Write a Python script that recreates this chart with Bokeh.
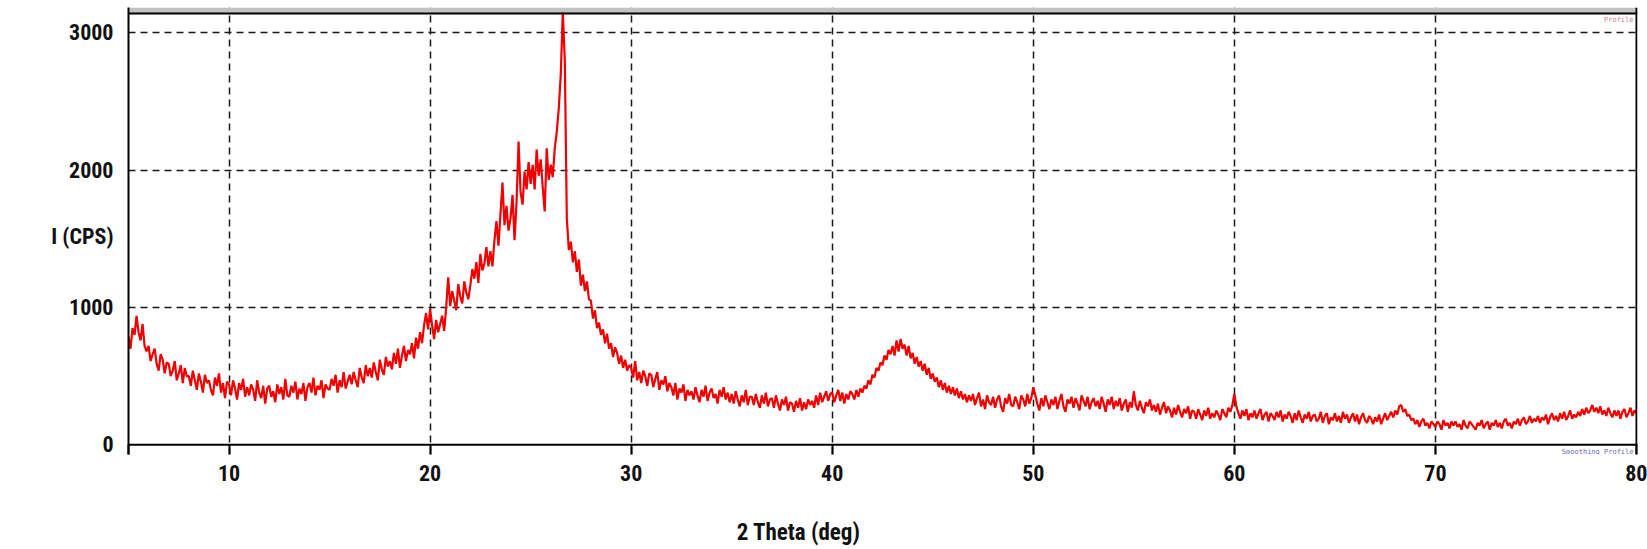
from bokeh.plotting import figure
from bokeh.models import (Range1d, FixedTicker, Label, Span, BoxAnnotation, LinearAxis)
from bokeh.embed import file_html
from bokeh.resources import INLINE

# XRD profile: intensity (CPS) sampled every 0.1 deg from 5.0 to 80.0 deg 2-theta
start_deg = 5.0
step_deg = 0.1
intensity = [
    790, 700, 850, 800, 940, 820, 760, 880, 720, 680,        # 5
    720, 610, 660, 700, 590, 540, 660, 620, 520, 600,        # 6
    590, 500, 540, 610, 470, 520, 580, 450, 560, 500,        # 7
    500, 430, 540, 470, 400, 520, 460, 380, 510, 450,        # 8
    470, 400, 360, 490, 430, 520, 380, 450, 340, 460,        # 9
    440, 360, 470, 410, 330, 450, 400, 480, 350, 420,        # 10
    360, 440, 400, 320, 470, 380, 340, 430, 300, 410,        # 11
    430, 350, 390, 310, 440, 370, 420, 330, 480, 360,        # 12
    350, 430, 380, 460, 330, 410, 370, 450, 320, 420,        # 13
    450, 380, 490, 360, 430, 400, 470, 340, 440, 410,        # 14
    400, 480, 430, 510, 380, 470, 420, 530, 410, 460,        # 15
    510, 440, 530, 470, 420, 560, 490, 450, 580, 500,        # 16
    560, 490, 600, 530, 470, 620, 550, 510, 640, 570,        # 17
    610, 550, 670, 590, 700, 560, 650, 720, 610, 690,        # 18
    660, 740, 630, 780, 700, 820, 740, 870, 960, 840,        # 19
    990, 870, 770, 910, 820, 880, 940, 830, 1000, 1220,      # 20
    1010, 1120, 1050, 980, 1170, 1080, 1030, 1190, 1110, 1060,   # 21
    1160, 1280, 1210, 1330, 1180, 1390, 1270, 1320, 1440, 1300,  # 22
    1410, 1300, 1490, 1630, 1450, 1680, 1910, 1600, 1740, 1560,  # 23
    1650, 1820, 1490, 1770, 2210, 1840, 1750, 1990, 1860, 2060,  # 24
    1900, 2040, 1860, 2150, 1960, 2080, 1880, 1700, 2160, 1930,  # 25
    2040, 1950, 2160, 2280, 2450, 2700, 3150, 2800, 1650, 1420,  # 26
    1480, 1330, 1410, 1260, 1350, 1160, 1240, 1120, 1190, 1060,  # 27
    1050, 920, 980, 850, 890, 800, 840, 740, 810, 700,       # 28
    740, 640, 710, 670, 590, 650, 560, 620, 540, 580,        # 29
    560, 490, 610, 470, 530, 450, 540, 500, 430, 520,        # 30
    510, 420, 480, 530, 400, 470, 440, 500, 390, 450,        # 31
    420, 360, 450, 330, 410, 380, 440, 320, 400, 360,        # 32
    390, 330, 420, 360, 310, 400, 350, 430, 320, 380,        # 33
    410, 340, 370, 300, 400, 350, 420, 330, 380, 310,        # 34
    370, 300, 390, 330, 280, 360, 310, 400, 290, 350,        # 35
    350, 290, 370, 310, 270, 360, 300, 380, 280, 330,        # 36
    340, 270, 360, 300, 250, 330, 290, 350, 250, 310,        # 37
    300, 240, 320, 270, 340, 250, 310, 260, 330, 290,        # 38
    320, 270, 360, 290, 380, 310, 350, 390, 320, 370,        # 39
    380, 310, 360, 400, 320, 380, 300, 370, 330, 390,        # 40
    370, 330, 400, 350, 410, 380, 430, 410, 470, 440,        # 41
    510, 490, 560, 540, 600, 580, 650, 620, 690, 660,        # 42
    720, 650, 760, 680, 770, 700, 730, 650, 720, 630,        # 43
    670, 590, 640, 570, 610, 540, 590, 510, 560, 480,        # 44
    520, 460, 490, 420, 470, 400, 450, 380, 430, 370,        # 45
    420, 360, 410, 340, 390, 330, 370, 310, 360, 320,        # 46
    370, 290, 340, 380, 280, 330, 260, 360, 310, 290,        # 47
    350, 270, 330, 360, 280, 240, 340, 300, 370, 290,        # 48
    280, 350, 310, 260, 360, 330, 280, 370, 300, 340,        # 49
    420, 360, 300, 250, 340, 280, 360, 310, 260, 330,        # 50
    290, 350, 260, 320, 370, 280, 240, 330, 300, 350,        # 51
    270, 340, 300, 250, 360, 320, 280, 350, 260, 310,        # 52
    340, 280, 320, 260, 350, 300, 240, 330, 290, 350,        # 53
    260, 320, 280, 340, 250, 300, 330, 240, 310, 270,        # 54
    390, 290, 250, 320, 270, 230, 310, 280, 330, 250,        # 55
    290, 240, 300, 220, 270, 310, 230, 280, 250, 200,        # 56
    270, 220, 290, 240, 200, 260, 230, 280, 190, 250,        # 57
    240, 190, 260, 220, 180, 250, 210, 270, 190, 230,        # 58
    200, 250, 220, 180, 260, 230, 200, 270, 240, 290,        # 59
    370, 280, 230, 190, 250, 210, 260, 180, 230, 200,        # 60
    250, 190, 230, 260, 180, 220, 240, 170, 230, 210,        # 61
    180, 240, 200, 250, 170, 220, 190, 240, 210, 160,        # 62
    230, 180, 250, 200, 160, 220, 190, 240, 170, 210,        # 63
    220, 170, 190, 240, 160, 210, 230, 150, 200, 180,        # 64
    230, 170, 210, 160, 240, 190, 220, 160, 200, 230,        # 65
    170, 220, 150, 200, 230, 180, 160, 210, 190, 150,        # 66
    200, 170, 220, 150, 190, 230, 180, 210, 240, 200,        # 67
    250, 220, 280, 290, 240, 260, 210, 220, 180, 190,        # 68
    150, 180, 130, 170, 190, 140, 160, 120, 170, 150,        # 69
    130, 170, 150, 110, 180, 140, 160, 120, 170, 140,        # 70
    170, 130, 150, 110, 180, 140, 120, 170, 150, 130,        # 71
    110, 160, 140, 180, 120, 150, 170, 110, 160, 140,        # 72
    180, 130, 160, 120, 170, 190, 140, 160, 120, 170,        # 73
    150, 190, 140, 180, 200, 150, 170, 210, 160, 190,        # 74
    170, 210, 160, 200, 180, 220, 150, 200, 230, 180,        # 75
    210, 170, 230, 190, 240, 180, 210, 250, 190, 220,        # 76
    200, 240, 210, 260, 220, 270, 230, 250, 290, 240,        # 77
    270, 230, 280, 220, 250, 210, 270, 230, 200, 250,        # 78
    210, 250, 190, 240, 260, 200, 230, 270, 210, 250,        # 79
    230,                                                     # 80
]
two_theta = [round(start_deg + step_deg * i, 1) for i in range(len(intensity))]

x_ticks = [5, 10, 20, 30, 40, 50, 60, 70, 80]
x_grid = [10, 20, 30, 40, 50, 60, 70]
y_ticks = [0, 1000, 2000, 3000]
y_grid = [1000, 2000, 3000]

x_title = "2 Theta (deg)"
y_title = "I (CPS)"
x_title_pos = 38.33   # axis titles sit at these data positions
y_title_pos = 1517

NARROW = "'Roboto Condensed', 'DejaVu Sans Condensed', sans-serif"

p = figure(
    width=1647, height=549,
    x_range=Range1d(5, 80.05), y_range=Range1d(-70.7, 3185.7),
    output_backend="svg", toolbar_location=None,
    min_border_left=128, min_border_right=10,
    min_border_top=7, min_border_bottom=95,
    background_fill_color="white", border_fill_color="white",
)
p.outline_line_color = None

# grey header strip above the plotting area, and the frame rules
p.add_layout(BoxAnnotation(bottom=3142, fill_color="#c2c2c2", fill_alpha=1,
                           line_color=None, level="underlay"))
p.add_layout(Span(location=3142, dimension="width", line_color="black", line_width=2))
p.add_layout(Span(location=0, dimension="width", line_color="black", line_width=2))
p.add_layout(Span(location=80, dimension="height", line_color="black", line_width=2))

p.line(two_theta, intensity, line_color="#f00000", line_width=2.2)

# x axis: ticks drawn up from the frame edge to the zero line
p.xaxis.ticker = FixedTicker(ticks=x_ticks)
p.xaxis.major_label_overrides = {5: ""}
p.xaxis.axis_line_color = None
p.xaxis.major_tick_out = 0
p.xaxis.major_tick_in = 10
p.xaxis.minor_tick_out = 0
p.xaxis.minor_tick_in = 0
p.xaxis.major_tick_line_width = 2
p.xaxis.major_label_standoff = 10
p.xaxis.major_label_text_font = NARROW
p.xaxis.major_label_text_font_size = "22px"
p.xaxis.major_label_text_font_style = "bold"
p.xaxis.major_label_text_color = "#111111"

# x axis title, carried by a bare secondary axis below the first
title_axis = LinearAxis(ticker=FixedTicker(ticks=[x_title_pos]),
                        major_label_overrides={x_title_pos: x_title})
title_axis.axis_line_color = None
title_axis.major_tick_line_color = None
title_axis.minor_tick_line_color = None
title_axis.major_tick_out = 0
title_axis.major_tick_in = 0
title_axis.minor_tick_out = 0
title_axis.minor_tick_in = 0
title_axis.major_label_standoff = 35
title_axis.major_label_text_font = NARROW
title_axis.major_label_text_font_size = "23px"
title_axis.major_label_text_font_style = "bold"
title_axis.major_label_text_color = "#111111"
p.add_layout(title_axis, "below")

# y axis, with its title set among the tick labels
p.yaxis.ticker = FixedTicker(ticks=y_ticks + [y_title_pos])
p.yaxis.major_label_overrides = {y_title_pos: y_title}
p.yaxis.major_tick_out = 0
p.yaxis.major_tick_in = 0
p.yaxis.minor_tick_out = 0
p.yaxis.minor_tick_in = 0
p.yaxis.axis_line_width = 2
p.yaxis.major_label_standoff = 15
p.yaxis.major_label_text_font = NARROW
p.yaxis.major_label_text_font_size = "22px"
p.yaxis.major_label_text_font_style = "bold"
p.yaxis.major_label_text_color = "#111111"

# dashed grid
for g in (p.xgrid, p.ygrid):
    g.grid_line_color = "#1a1a1a"
    g.grid_line_width = 1.5
    g.grid_line_dash = "7 5"
p.xgrid.ticker = FixedTicker(ticks=x_grid)
p.ygrid.ticker = FixedTicker(ticks=y_grid)

# small trace captions
p.add_layout(Label(x=1505, y=435, x_units="screen", y_units="screen", text="Profile",
                   text_align="right", text_baseline="middle",
                   text_font="'DejaVu Sans Mono', monospace", text_font_size="7px",
                   text_color="#e07a8a"))
p.add_layout(Label(x=1505, y=3, x_units="screen", y_units="screen", text="Smoothing Profile",
                   text_align="right", text_baseline="middle",
                   text_font="'DejaVu Sans Mono', monospace", text_font_size="7px",
                   text_color="#6a6ab8"))

open("out.html", "w").write(file_html(p, INLINE))
